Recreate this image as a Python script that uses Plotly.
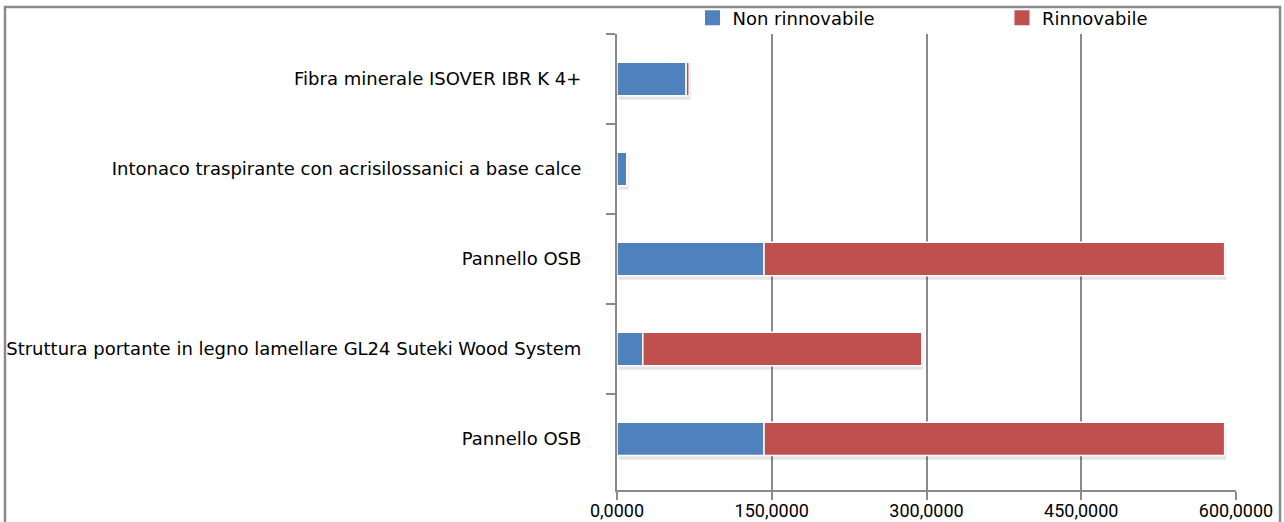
import plotly.graph_objects as go

# categories, bottom to top
labels = ["Pannello OSB",
          "Struttura portante in legno lamellare GL24 Suteki Wood System",
          "Pannello OSB",
          "Intonaco traspirante con acrisilossanici a base calce",
          "Fibra minerale ISOVER IBR K 4+"]
non_rinnovabile = [142.5, 25.0, 142.5, 9.5, 67.0]
rinnovabile = [446.5, 270.5, 446.5, 0.5, 3.0]
x_ticks = [0, 150, 300, 450, 600]
x_ticktext = ["0,0000", "150,0000", "300,0000", "450,0000", "600,0000"]

pos = list(range(len(labels)))
totale = [a + b for a, b in zip(non_rinnovabile, rinnovabile)]
grey = "#8a8a8a"
blue = "#4F81BD"
red = "#C0504D"
bw = 0.37

fig = go.Figure()
# soft shadow under the bars
fig.add_trace(go.Bar(y=pos, x=totale, base=1.5, orientation="h", width=bw, offset=-bw / 2 - 0.045,
                     marker=dict(color="rgba(0,0,0,0.10)", line=dict(width=0)),
                     showlegend=False, hoverinfo="skip"))
fig.add_trace(go.Bar(y=pos, x=non_rinnovabile, orientation="h", name="Non rinnovabile", width=bw,
                     marker=dict(color=blue, line=dict(color="white", width=1.5)), showlegend=False))
fig.add_trace(go.Bar(y=pos, x=rinnovabile, base=non_rinnovabile, orientation="h", name="Rinnovabile",
                     width=bw, marker=dict(color=red, line=dict(color="white", width=1.5)), showlegend=False))
# legend entries
fig.add_trace(go.Scatter(x=[None], y=[None], mode="markers", name="Non rinnovabile", legend="legend",
                         marker=dict(symbol="square", size=15, color=blue)))
fig.add_trace(go.Scatter(x=[None], y=[None], mode="markers", name="Rinnovabile", legend="legend2",
                         marker=dict(symbol="square", size=15, color=red)))

fig.update_xaxes(range=[0, 600], tickvals=x_ticks, ticktext=x_ticktext,
                 showgrid=True, gridcolor=grey, gridwidth=2,
                 showline=True, linecolor=grey, linewidth=2,
                 ticks="outside", ticklen=8, tickwidth=2, tickcolor=grey, ticklabelstandoff=-5,
                 tickfont=dict(family="Roboto", size=18, color="black"), zeroline=False)
fig.update_yaxes(range=[-0.567, 4.5], tickvals=pos, ticktext=labels, ticks="",
                 showgrid=False, showline=True, linecolor=grey, linewidth=2, zeroline=False,
                 minor=dict(tickvals=[0.5, 1.5, 2.5, 3.5, 4.5], ticks="outside",
                            ticklen=9, tickwidth=2, tickcolor=grey, showgrid=False),
                 ticklabelstandoff=30,
                 tickfont=dict(family="DejaVu Sans", size=18, color="black"))

leg = dict(orientation="h", xref="container", yref="container", y=1 - 18 / 522,
           xanchor="left", yanchor="middle", bgcolor="rgba(0,0,0,0)",
           font=dict(family="DejaVu Sans", size=18, color="black"))

fig.update_layout(
    barmode="overlay", width=1284, height=522,
    margin=dict(l=617, r=48, t=34, b=32, autoexpand=False),
    plot_bgcolor="white", paper_bgcolor="white",
    legend=dict(leg, x=692.5 / 1284),
    legend2=dict(leg, x=1002 / 1284),
    shapes=[dict(type="rect", xref="paper", yref="paper", x0=-0.9887, x1=1.0711,
                 y0=-0.3, y1=(490 - 7) / 456, line=dict(color=grey, width=2.5), layer="below")],
)

fig.write_html("out.html", config={"displayModeBar": False},
               post_script="document.body.style.margin='0';")
